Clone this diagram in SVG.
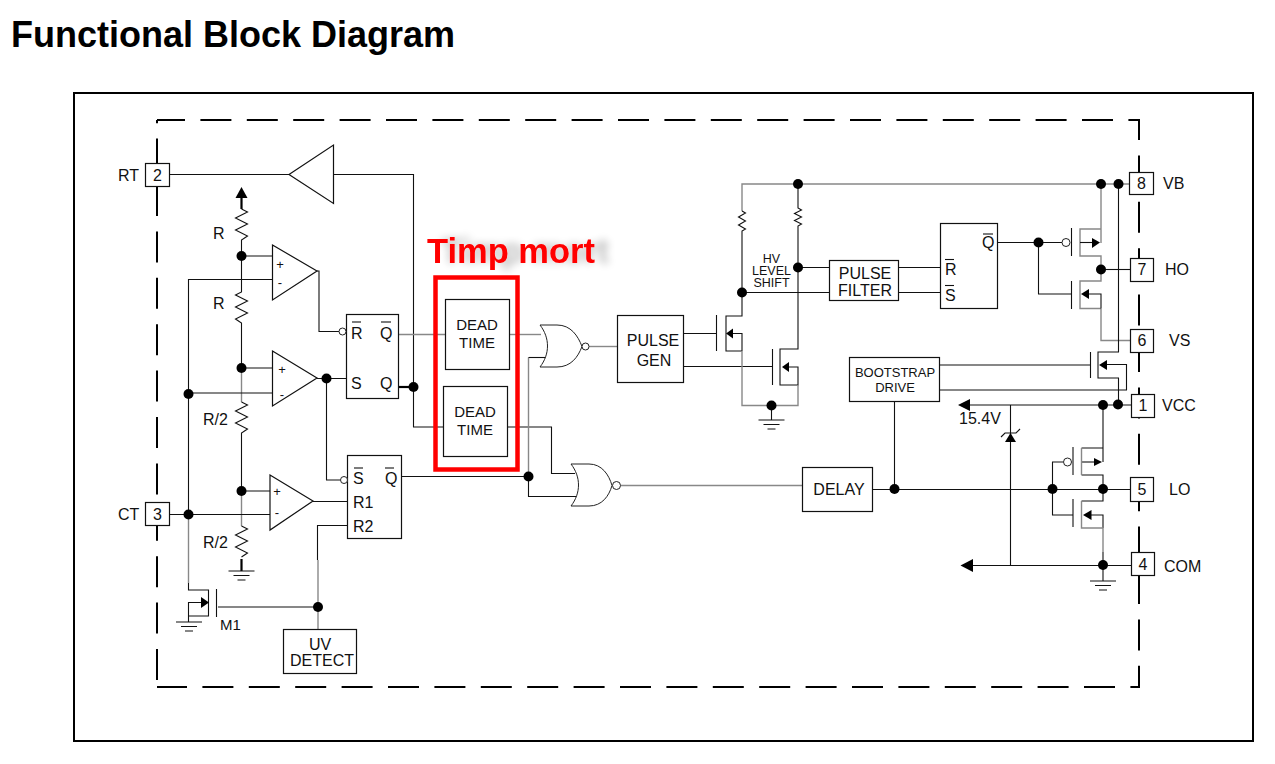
<svg xmlns="http://www.w3.org/2000/svg" width="1275" height="764" viewBox="0 0 1275 764">
<style>
text{font-family:"Liberation Sans",Arial,sans-serif;fill:#111;font-size:16px}
.m{text-anchor:middle}
.title{font-size:36px;font-weight:bold;fill:#000}
.sm{font-size:15px}
.xs{font-size:13px}
.hv{font-size:12.5px}
.red{font-size:34.500px;font-weight:bold;fill:#f00}
.b{fill:#fff;stroke:#111;stroke-width:1.2}
.w{fill:none;stroke:#111;stroke-width:1.1}
.g{fill:none;stroke:#888;stroke-width:1.4}
.t{fill:none;stroke:#000;stroke-width:2.2}
.d{fill:none;stroke:#000;stroke-width:2;stroke-dasharray:31 15.4}
.dot{fill:#000}
.inv{fill:#fff;stroke:#222;stroke-width:1}
.ar{fill:#000}
</style>
<defs>
<filter id="sh" x="-10%" y="-40%" width="130%" height="180%">
<feGaussianBlur in="SourceAlpha" stdDeviation="4"/>
<feOffset dx="14" dy="0"/>
<feComponentTransfer><feFuncA type="linear" slope="0.28"/></feComponentTransfer>
<feMerge><feMergeNode/><feMergeNode in="SourceGraphic"/></feMerge>
</filter>
<g id="gnd"><path class="w" d="M-13 0H13M-8 4.500H8M-4 9H4"/></g>
</defs>
<rect width="1275" height="764" fill="#fff"/>
<text class="title" x="11" y="47">Functional Block Diagram</text>
<rect x="74" y="93" width="1179" height="648" fill="none" stroke="#000" stroke-width="2"/>
<g id="boundary">
<path class="d" d="M157 680V120"/>
<path class="d" stroke-dashoffset="3" d="M157 120H1140"/>
<path class="d" stroke-dashoffset="11" d="M1139 120V688"/>
<path class="d" stroke-dashoffset="1" d="M157 687H1140"/>
</g>
<g id="connectors">
<path class="w" d="M169 174.500H289M333 174.500H413.500V427H443"/>
<path class="t" d="M241.500 198V209"/>
<path class="w" d="M241.500 209l6 3-12 6 12 6-12 6 12 6-6 4V256M241.500 256V292l-6 3 12 6-12 6 12 6-12 6 6 4V368"/>
<path class="w" d="M241.500 256H272M241.500 368H272M241.500 491H270"/>
<path class="g" d="M241.500 368V402"/>
<path class="w" d="M241.500 402l6 3-12 6 12 6-12 6 12 6-6 4V491"/>
<path class="g" d="M241.500 491V526"/>
<path class="w" d="M241.500 526l6 3-12 6 12 6-12 6 12 6-6 4"/>
<path class="t" d="M241.500 559V571"/>
<path class="w" d="M272 279.500H188.500V514.500M188.500 393H272M169 514.500H270"/>
<path class="w" d="M317 271H319V331.500H339"/>
<path class="w" d="M317 378.500H346M326.500 378.500V480H340"/>
<path class="t" d="M398 387H413.500"/>
<path class="g" d="M398 334.500H445"/>
<path class="g" d="M509 334.500H541"/>
<path class="g" d="M589 346.500H617"/>
<path class="w" d="M507 427H551.500V473.500H575"/>
<path class="w" d="M402 476.500H528.500V496.500H579"/>
<path class="g" d="M528.500 476V357.500"/>
<path class="w" d="M528.500 357.500H547"/>
<path class="g" d="M620.500 485.500H802"/>
<path class="w" d="M313 501.500H347"/>
<path class="w" d="M347 525.500H317.500V560"/>
<path class="g" d="M318 560V630"/>
<path class="w" d="M318 607H218"/>
<path class="g" d="M188.500 514.500V583"/>
<path class="w" d="M188.500 583V590H208.500V616H188.500V622M208 602.500H188.500V616"/>
<path class="w" d="M683 333.500H716M683 366.500H772"/>
<path class="g" d="M742 211V184H1129"/>
<path class="w" d="M742 211l3.500 2-7 4 7 4-7 4 7 4-3.500 2V316H726V351H742M733 333.500H742V351"/>
<path class="w" d="M798 184V208l3.500 2-7 3.500 7 3.500-7 3.500 7 3.500-3.500 2V349H780V385H798V367H788"/>
<path class="g" d="M742 351V405.500H798V385"/>
<path class="w" d="M771.500 405.500V420"/>
<path class="w" d="M798 267.500H829M742 292.500H829M898 267.500H940M898 292.500H940"/>
<path class="w" d="M997 242.500H1062M1038.500 242.500V294H1071.500"/>
<path class="g" d="M1101 184V243M1101 229H1080V256H1101V281H1080V308.500H1101M1101 308.500V340.500H1130"/>
<path class="w" d="M1080 242.500H1093"/>
<path class="w" d="M1089 294H1101V308.500"/>
<path class="w" d="M1101 269.500H1130"/>
<path class="w" d="M1118.500 184V352H1098V378H1118.500V404"/>
<path class="w" d="M939 365H1090M939 390H1126.500V364.500H1107"/>
<path class="w" d="M970 405H1131"/>
<path class="w" d="M1010.500 405V566"/>
<path class="w" d="M1103 405V462M1103 448H1081.500M1081.500 475H1103V501H1081.500M1091 515H1103V528"/>
<path class="w" d="M1081.500 462H1094"/>
<path class="g" d="M1081.500 448V475M1081.500 501V528H1103V552"/>
<path class="w" d="M1103 552V581"/>
<path class="w" d="M873 489.500H1130M894.500 401V489.500"/>
<path class="w" d="M1052.500 489.500V462H1063M1052.500 489.500V515H1073"/>
<path class="w" d="M973 565.500H1131"/>
</g>
<g id="junctions">
<circle class="dot" cx="241.500" cy="256" r="5"/>
<circle class="dot" cx="241.500" cy="368" r="5"/>
<circle class="dot" cx="241.500" cy="491" r="5"/>
<circle class="dot" cx="188.500" cy="394" r="5"/>
<circle class="dot" cx="188.500" cy="514.500" r="5"/>
<circle class="dot" cx="326.500" cy="378.500" r="5"/>
<circle class="dot" cx="413.500" cy="387" r="5"/>
<circle class="dot" cx="528.500" cy="476.500" r="5"/>
<circle class="dot" cx="318" cy="607" r="5"/>
<circle class="dot" cx="798" cy="184" r="5"/>
<circle class="dot" cx="798" cy="267.500" r="5"/>
<circle class="dot" cx="742" cy="292.500" r="5"/>
<circle class="dot" cx="771.500" cy="405.500" r="5"/>
<circle class="dot" cx="1101" cy="184" r="5"/>
<circle class="dot" cx="1118.500" cy="184" r="5"/>
<circle class="dot" cx="1038.500" cy="242.500" r="5"/>
<circle class="dot" cx="1101" cy="269.500" r="5"/>
<circle class="dot" cx="1103" cy="405" r="5"/>
<circle class="dot" cx="1118" cy="404.500" r="5"/>
<circle class="dot" cx="894.500" cy="489" r="5"/>
<circle class="dot" cx="1052.500" cy="489" r="5"/>
<circle class="dot" cx="1103" cy="489" r="5"/>
<circle class="dot" cx="1103" cy="565" r="5"/>
</g>
<g id="pin2"><rect class="b" x="145.500" y="163.500" width="24" height="23"/><text class="m" x="157.500" y="181">2</text><text x="118" y="181">RT</text></g>
<g id="pin3"><rect class="b" x="145.500" y="502.500" width="24" height="23"/><text class="m" x="157.500" y="520">3</text><text x="118" y="520">CT</text></g>
<g id="pin8"><rect class="b" x="1129.500" y="172.500" width="24" height="22"/><text class="m" x="1141.500" y="189">8</text><text x="1163" y="189">VB</text></g>
<g id="pin7"><rect class="b" x="1130.500" y="258.500" width="23" height="23"/><text class="m" x="1142" y="275">7</text><text x="1165" y="275">HO</text></g>
<g id="pin6"><rect class="b" x="1130.500" y="329.500" width="23" height="23"/><text class="m" x="1142" y="346">6</text><text x="1169" y="346">VS</text></g>
<g id="pin1"><rect class="b" x="1131.500" y="394.500" width="23" height="23"/><text class="m" x="1143" y="411">1</text><text x="1162" y="411">VCC</text></g>
<g id="pin5"><rect class="b" x="1130.500" y="477.500" width="23" height="24"/><text class="m" x="1142" y="495">5</text><text x="1169" y="495">LO</text></g>
<g id="pin4"><rect class="b" x="1131.500" y="552.500" width="23" height="23"/><text class="m" x="1143" y="570">4</text><text x="1164" y="572">COM</text></g>
<g id="rt-buffer"><path class="b" d="M289 174.500L333.500 145V203.500Z"/></g>
<g id="vref-arrow"><path class="ar" d="M241.500 187L247.500 198H235.500Z"/></g>
<g id="res-labels"><text x="213" y="239">R</text><text x="213" y="309">R</text><text x="203" y="425">R/2</text><text x="203" y="548">R/2</text></g>
<g id="amp1"><path class="b" d="M272.500 245L317 271 272.500 300Z"/><text class="xs m" x="280" y="269">+</text><text class="xs m" x="280" y="287">-</text></g>
<g id="amp2"><path class="b" d="M272.500 351L317 378 272.500 406Z"/><text class="xs m" x="282" y="374">+</text><text class="xs m" x="282" y="399">-</text></g>
<g id="amp3"><path class="b" d="M270 475L313 501 270 530Z"/><text class="xs m" x="277" y="496">+</text><text class="xs m" x="277" y="517">-</text></g>
<g id="sr1"><rect class="b" x="346.500" y="314.500" width="52" height="84"/>
<circle class="inv" cx="342.500" cy="331.500" r="3.500"/>
<text x="351" y="339">R</text><path class="w" d="M352 322H361"/>
<text x="380" y="339">Q</text><path class="w" d="M381 322H391"/>
<text x="351" y="389">S</text><text x="380" y="389">Q</text></g>
<g id="sr2"><rect class="b" x="347.500" y="455.500" width="54" height="83"/>
<circle class="inv" cx="344" cy="480" r="3.500"/>
<text x="353" y="484">S</text><path class="w" d="M354 468H363"/>
<text x="385" y="484">Q</text><path class="w" d="M385 468H394"/>
<text x="353" y="508">R1</text><text x="353" y="532">R2</text></g>
<g id="uv-detect"><rect class="b" x="283.500" y="629.500" width="73" height="44"/><text class="m" x="320" y="650">UV</text><text class="m" x="322" y="666">DETECT</text></g>
<g id="m1"><path class="w" d="M216.500 589V617"/><path class="ar" d="M209 602.500L201 597V608Z"/><use href="#gnd" x="189" y="622"/><text x="220" y="630" class="sm">M1</text></g>
<g id="gnd-r"><use href="#gnd" x="241.500" y="571"/></g>
<g id="dead-time-1"><rect class="b" x="445.500" y="299.500" width="64" height="70"/><text class="sm m" x="477" y="330">DEAD</text><text class="sm m" x="477" y="348">TIME</text></g>
<g id="dead-time-2"><rect class="b" x="443.500" y="386.500" width="64" height="70"/><text class="sm m" x="475" y="417">DEAD</text><text class="sm m" x="475" y="435">TIME</text></g>
<g id="highlight"><rect x="435.500" y="277.500" width="82" height="192" fill="none" stroke="#f00" stroke-width="4.500"/><text class="red" x="427" y="263" filter="url(#sh)">Timp mort</text></g>
<g id="nor1"><path class="inv" d="M540 325H557C571 325 578 336 582 346.500 578 357 571 367 557 367H540C550 354 550 338 540 325Z"/><circle class="inv" cx="585.500" cy="346.500" r="3.500"/></g>
<g id="nor2"><path class="inv" d="M571 464H589C602 464 609 475 612 485.500 609 496 602 506 589 506H571C581 493 581 477 571 464Z"/><circle class="inv" cx="616.500" cy="485.500" r="4"/></g>
<g id="pulse-gen"><rect class="b" x="617.500" y="315.500" width="66" height="67"/><text class="m" x="653" y="346">PULSE</text><text class="m" x="654" y="366">GEN</text></g>
<g id="hv-level"><text class="hv m" x="771.500" y="263">HV</text><text class="hv m" x="771.500" y="275">LEVEL</text><text class="hv m" x="771.500" y="287">SHIFT</text></g>
<g id="q-hv1"><path class="w" d="M716.500 315V351"/><path class="ar" d="M726 333.500L733 328.500V338.500Z"/></g>
<g id="q-hv2"><path class="w" d="M772.500 349V385"/><path class="ar" d="M782 367L789 362V372Z"/></g>
<g id="gnd-hv"><use href="#gnd" x="771.500" y="420"/></g>
<g id="pulse-filter"><rect class="b" x="829.500" y="260.500" width="69" height="40"/><text class="m" x="865" y="279">PULSE</text><text class="m" x="865" y="296">FILTER</text></g>
<g id="latch"><rect class="b" x="940.500" y="223.500" width="57" height="85"/>
<text x="945" y="275">R</text><path class="w" d="M945 259.500H954"/>
<text x="945" y="301">S</text><path class="w" d="M945 285.500H954"/>
<text x="982" y="248">Q</text><path class="w" d="M983 234H993"/></g>
<g id="q-ho-p"><path class="w" d="M1071.500 228V256"/><circle class="inv" cx="1066" cy="242.500" r="4"/><path class="ar" d="M1100 242.500L1092 238V248Z"/></g>
<g id="q-ho-n"><path class="w" d="M1071.500 281V309"/><path class="ar" d="M1081 294L1089 289V299Z"/></g>
<g id="q-boot"><path class="w" d="M1090.500 352V378"/><path class="ar" d="M1099 365L1107 360V370Z"/></g>
<g id="bootstrap"><rect class="b" x="849.500" y="357.500" width="90" height="44"/><text class="xs m" x="895" y="377">BOOTSTRAP</text><text class="xs m" x="895" y="392">DRIVE</text></g>
<g id="delay"><rect class="b" x="802.500" y="467.500" width="70" height="44"/><text class="m" x="839" y="495">DELAY</text></g>
<g id="vcc-arrow"><path class="ar" d="M958 405L970 399V411Z"/><text x="959" y="424">15.4V</text></g>
<g id="zener"><path class="ar" d="M1010.500 433L1016 442H1005Z"/><path class="w" d="M1001 437L1005 433H1016L1020 429"/></g>
<g id="com-arrow"><path class="ar" d="M960.500 565.500L973 559V572Z"/></g>
<g id="q-lo-p"><path class="w" d="M1073 447V475"/><circle class="inv" cx="1067.500" cy="462" r="4"/><path class="ar" d="M1102 462L1094 458V466Z"/></g>
<g id="q-lo-n"><path class="w" d="M1073 499V527"/><path class="ar" d="M1083 515L1091.500 510V520Z"/></g>
<g id="gnd-com"><use href="#gnd" x="1103" y="581"/></g>
</svg>
